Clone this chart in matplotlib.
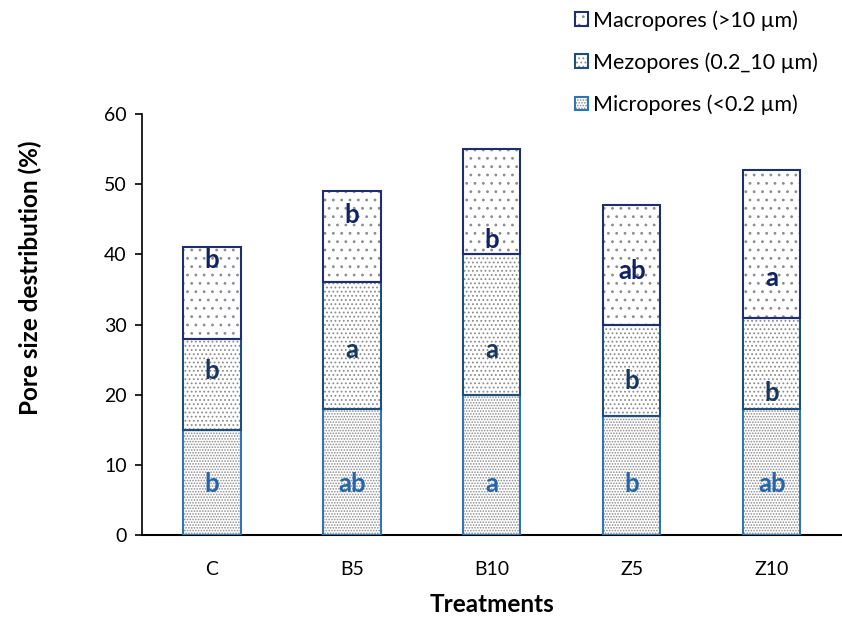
import numpy as np
import matplotlib
matplotlib.use('Agg')
import matplotlib.pyplot as plt

plt.rcParams['font.family'] = ['Lato', 'DejaVu Sans']
plt.rcParams['hatch.linewidth'] = 0.8

treatments = ['C', 'B5', 'B10', 'Z5', 'Z10']
micro = [15, 18, 20, 17, 18]
meso = [13, 18, 20, 13, 13]
macro = [13, 13, 15, 17, 21]

micro_letters = ['b', 'ab', 'a', 'b', 'ab']
meso_letters = ['b', 'a', 'a', 'b', 'b']
macro_letters = ['b', 'b', 'b', 'ab', 'a']

# heights where the letters sit
micro_lab_y = [7.3, 7.3, 7.3, 7.3, 7.3]
meso_lab_y = [23.4, 26.4, 26.4, 22.0, 20.2]
macro_lab_y = [39.2, 45.6, 42.0, 37.7, 36.6]

x = np.arange(len(treatments))
w = 0.41

fig = plt.figure(figsize=(8.42, 6.19), dpi=100)
ax = fig.add_axes([0.1686, 0.1357, 0.831, 0.68])

bottom_meso = np.array(micro)
bottom_macro = bottom_meso + np.array(meso)

layers = [
    (micro, 0, '......', '#2E75B6', micro_letters, micro_lab_y, '#2466AC', 'Micropores (<0.2 µm)'),
    (meso, bottom_meso, '....', '#1F4E79', meso_letters, meso_lab_y, '#17375E', 'Mezopores (0.2_10 µm)'),
    (macro, bottom_macro, '..', '#1F2E6E', macro_letters, macro_lab_y, '#0F2264', 'Macropores (>10 µm)'),
]

handles = []
for vals, bot, hatch, ec, letters, lab_y, tc, name in layers:
    h1 = ax.bar(x, vals, w, bottom=bot, color='white', edgecolor='#8C8C8C',
                hatch=hatch, linewidth=0, zorder=2)
    h2 = ax.bar(x, vals, w, bottom=bot, color='none', edgecolor=ec,
                linewidth=1.5, zorder=3)
    for xi, lt, yy in zip(x, letters, lab_y):
        ax.text(xi, yy, lt, ha='center', va='center', fontsize=18.5,
                fontweight='bold', color=tc, zorder=4)
    handles.append(((h1[0], h2[0]), name))

handles = handles[::-1]
leg = fig.legend([h for h, n in handles], [n for h, n in handles],
                 loc='upper left', bbox_to_anchor=(0.660, 1.015), frameon=False,
                 fontsize=15.5, handlelength=0.6, handleheight=0.6,
                 handletextpad=0.25, labelspacing=1.0)

ax.set_xlim(-0.5, 4.5)
ax.set_ylim(0, 60)
ax.set_yticks(range(0, 61, 10))
ax.set_xticks(x)
ax.set_xticklabels(treatments)
ax.tick_params(axis='x', length=0, labelsize=14, pad=18.5)
ax.tick_params(axis='y', length=5, labelsize=14, width=1.2, pad=6)
for s in ['top', 'right']:
    ax.spines[s].set_visible(False)
ax.spines['left'].set_linewidth(1.2)
ax.spines['bottom'].set_linewidth(1.5)

ax.set_xlabel('Treatments', fontsize=17.5, fontweight='bold', labelpad=11)
ax.set_ylabel('Pore size destribution (%)', fontsize=17.5, fontweight='bold')
ax.yaxis.set_label_coords(-0.143, 0.61)

fig.savefig('out.png', dpi=100)
